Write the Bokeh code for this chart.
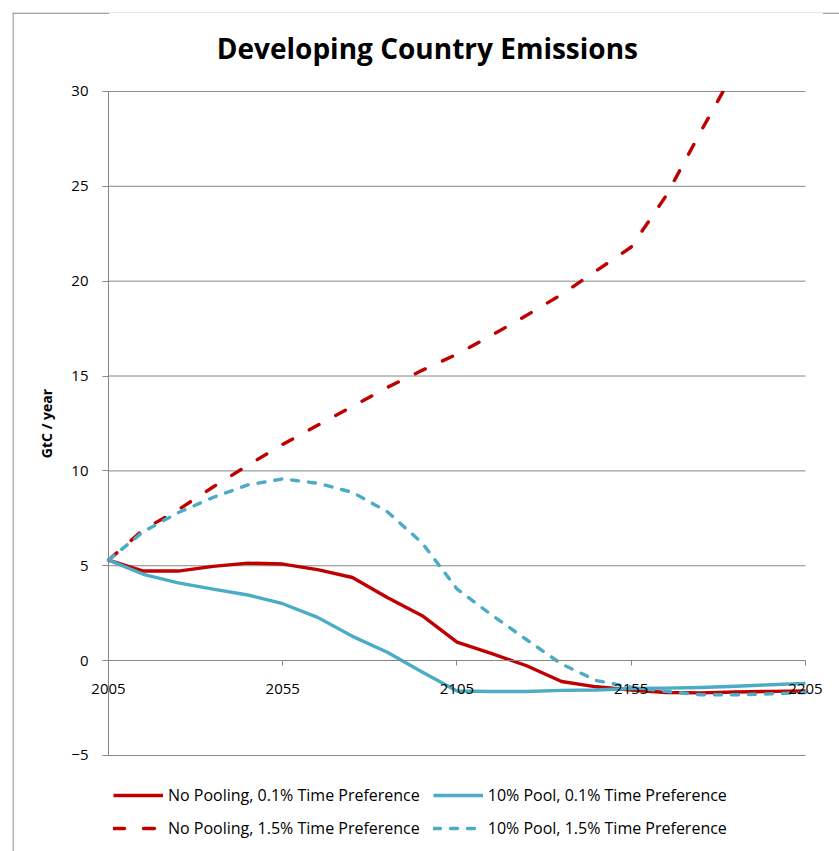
import math
from bokeh.plotting import figure
from bokeh.models import (Range1d, FixedTicker, Legend, LegendItem, Label,
                          BoxAnnotation, Span)
from bokeh.embed import file_html
from bokeh.resources import INLINE

NaN = float("nan")

# ---- data -------------------------------------------------------------
years = [2005, 2015, 2025, 2035, 2045, 2055, 2065, 2075, 2085, 2095, 2105,
         2115, 2125, 2135, 2145, 2155, 2165, 2175, 2185, 2195, 2205]

no_pool_01 = [5.3, 4.72, 4.72, 4.97, 5.14, 5.09, 4.8, 4.38, 3.33, 2.37, 0.98,
              0.37, -0.27, -1.1, -1.38, -1.55, -1.68, -1.7, -1.65, -1.62, -1.6]

pool10_01 = [5.3, 4.55, 4.1, 3.77, 3.46, 3.0, 2.28, 1.28, 0.44, -0.6, -1.6,
             -1.63, -1.63, -1.57, -1.55, -1.47, -1.45, -1.42, -1.35, -1.27, -1.2]

no_pool_15 = [5.3, 6.9, 7.95, 9.15, 10.3, 11.4, 12.4, 13.4, 14.4, 15.3, 16.15,
              17.15, 18.2, 19.3, 20.55, 21.8, 24.5, 27.9, 31.2, NaN, NaN]

pool10_15 = [5.3, 6.8, 7.8, 8.6, 9.26, 9.58, 9.35, 8.87, 7.85, 6.2, 3.78,
             2.4, 1.1, -0.18, -1.05, -1.4, -1.62, -1.8, -1.8, -1.75, -1.68]

y_ticks = [-5, 0, 5, 10, 15, 20, 25, 30]
x_ticks = [2005, 2055, 2105, 2155, 2205]
grid_vals = [v for v in y_ticks if v != 0]

title_text = "Developing Country Emissions"
y_label = "GtC / year"
labels = ["No Pooling, 0.1% Time Preference", "10% Pool, 0.1% Time Preference",
          "No Pooling, 1.5% Time Preference", "10% Pool, 1.5% Time Preference"]

RED = "#C00000"
CYAN = "#4BACC6"
GRAY = "#868686"
FONT = "Open Sans"

# ---- figure -----------------------------------------------------------
W, H = 839, 851
X0, X1 = 1977.45, 2214.76
Y0, Y1 = -10.06, 34.16
p = figure(width=W, height=H, output_backend="svg", toolbar_location=None,
           x_range=Range1d(X0, X1), y_range=Range1d(Y0, Y1),
           min_border_left=12, min_border_top=12, min_border_right=0,
           min_border_bottom=0)
p.background_fill_color = "white"
p.border_fill_color = "white"
p.outline_line_color = None
p.xgrid.visible = False
p.ygrid.visible = False

# chart-area border (only left and top edges are inside the window)
p.add_layout(Span(location=X0 + 0.15, dimension="height", line_color=GRAY,
                  line_width=1.2))
p.add_layout(Span(location=Y1 - 0.03, dimension="width", line_color=GRAY,
                  line_width=1.2))

# gridlines limited to the plot area
p.segment(x0=x_ticks[0], x1=x_ticks[-1], y0=grid_vals, y1=grid_vals,
          line_color=GRAY, line_width=1, level="underlay")

xa = p.xaxis[0]
xa.fixed_location = 0
xa.bounds = (x_ticks[0], x_ticks[-1])
xa.ticker = FixedTicker(ticks=x_ticks)
xa.major_tick_in = 0
xa.major_tick_out = 5
xa.minor_tick_in = 0
xa.minor_tick_out = 0
xa.axis_line_color = GRAY
xa.major_tick_line_color = GRAY
xa.major_label_text_font = FONT
xa.major_label_text_font_size = "15px"
xa.major_label_text_color = "black"
xa.major_label_standoff = 18

ya = p.yaxis[0]
ya.fixed_location = x_ticks[0]
ya.bounds = (y_ticks[0], y_ticks[-1])
ya.ticker = FixedTicker(ticks=y_ticks)
ya.major_tick_in = 0
ya.major_tick_out = 6
ya.minor_tick_in = 0
ya.minor_tick_out = 0
ya.axis_line_color = GRAY
ya.major_tick_line_color = GRAY
ya.major_label_text_font = FONT
ya.major_label_text_font_size = "15px"
ya.major_label_text_color = "black"
ya.major_label_standoff = 14
ya.axis_label = y_label
ya.axis_label_text_font = FONT
ya.axis_label_text_font_size = "14px"
ya.axis_label_text_font_style = "bold"
ya.axis_label_text_color = "black"
ya.axis_label_standoff = 12

LW = 3.4
r1 = p.line(years, no_pool_01, line_color=RED, line_width=LW, line_join="round")
r2 = p.line(years, pool10_01, line_color=CYAN, line_width=LW, line_join="round")
r3 = p.line(years, no_pool_15, line_color=RED, line_width=LW, line_join="round",
            line_cap="round", line_dash="11 19")
r4 = p.line(years, pool10_15, line_color=CYAN, line_width=LW, line_join="round",
            line_cap="round", line_dash="7 10")

# hide what is above the top of the value axis
p.add_layout(BoxAnnotation(bottom=30.04, left=x_ticks[0] + 0.2, right=x_ticks[-1] + 5,
                           fill_color="white", fill_alpha=1, line_color=None,
                           level="annotation"))

p.add_layout(Label(x=2096.5, y=32.3, text=title_text, text_align="center",
                   text_baseline="middle", text_font=FONT, text_font_size="28px",
                   text_font_style="bold", text_color="black", level="overlay"))


def make_legend(items, loc):
    return Legend(items=items, orientation="horizontal", location=loc,
                  glyph_width=50, glyph_height=28, label_height=28,
                  label_standoff=5, spacing=13, padding=0, margin=0,
                  border_line_color=None, background_fill_alpha=0,
                  label_text_font=FONT, label_text_font_size="16px",
                  label_text_color="black")


leg1 = make_legend([LegendItem(label=labels[0], renderers=[r1]),
                    LegendItem(label=labels[1], renderers=[r2])], (101, 42))
leg2 = make_legend([LegendItem(label=labels[2], renderers=[r3]),
                    LegendItem(label=labels[3], renderers=[r4])], (101, 9))
p.add_layout(leg1, "center")
p.add_layout(leg2, "center")

open("out.html", "w").write(file_html(p, INLINE))
